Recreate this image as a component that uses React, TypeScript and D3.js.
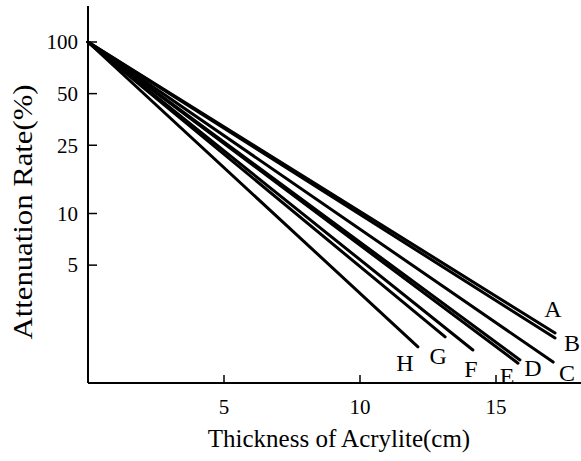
import React from 'react';
import * as d3 from 'd3';

// series names and where each line ends (thickness in cm, attenuation in %)
const seriesNames = ['A', 'B', 'C', 'D', 'E', 'F', 'G', 'H'];
const endThickness = [17.17, 17.17, 17.1, 15.88, 15.81, 14.15, 13.13, 12.13];
const endAttenuation = [2.01, 1.88, 1.36, 1.4, 1.34, 1.6, 1.91, 1.67];
const startThickness = 0;
const startAttenuation = 100;

const xTicks = [5, 10, 15];
const yTicks = [100, 50, 25, 10, 5];

// label placement relative to line end (px)
const labelOffsets: [number, number][] = [
  [-2, -16], [17, 13], [14, 19], [13, 16], [-11, 21], [-2, 27], [-7, 27], [-13, 24],
];

const W = 581;
const H = 461;
const font = '"Liberation Serif", "DejaVu Serif", serif';

export default function App() {
  const x = d3.scaleLinear().domain([0, 5]).range([88, 224]);
  const y = d3.scaleLog().domain([1, 100]).range([385, 42]);
  const axisY = 383;
  const axisX = x(0);

  const line = d3.line<[number, number]>()
    .x(d => x(d[0]))
    .y(d => y(d[1]));

  return (
    <svg width={W} height={H} style={{ position: 'absolute', left: 0, top: 0, background: '#fff' }}>
      {/* lines */}
      {seriesNames.map((name, i) => (
        <path
          key={name}
          d={line([[startThickness, startAttenuation], [endThickness[i], endAttenuation[i]]]) || ''}
          fill="none"
          stroke="#000"
          strokeWidth={3}
          strokeLinecap="round"
        />
      ))}

      {/* axes */}
      <line x1={axisX} x2={axisX} y1={6} y2={axisY} stroke="#000" strokeWidth={2} />
      <line x1={axisX} x2={W} y1={axisY} y2={axisY} stroke="#000" strokeWidth={2} />

      {yTicks.map(t => (
        <g key={t}>
          <line x1={axisX} x2={axisX + 9} y1={y(t)} y2={y(t)} stroke="#000" strokeWidth={1.5} />
          <text x={78} y={y(t)} dy="0.35em" textAnchor="end" fontFamily={font} fontSize={21}>{t}</text>
        </g>
      ))}
      {xTicks.map(t => (
        <g key={t}>
          <line x1={x(t)} x2={x(t)} y1={axisY} y2={axisY - 8} stroke="#000" strokeWidth={1.5} />
          <text x={x(t)} y={414} textAnchor="middle" fontFamily={font} fontSize={21}>{t}</text>
        </g>
      ))}

      {/* series labels */}
      {seriesNames.map((name, i) => (
        <text
          key={name}
          x={x(endThickness[i]) + labelOffsets[i][0]}
          y={y(endAttenuation[i]) + labelOffsets[i][1]}
          textAnchor="middle"
          fontFamily={font}
          fontSize={24}
        >{name}</text>
      ))}

      {/* axis titles */}
      <text x={339} y={447} textAnchor="middle" fontFamily={font} fontSize={25}>Thickness of Acrylite(cm)</text>
      <text
        transform="translate(32,212) rotate(-90)"
        textAnchor="middle"
        fontFamily={font}
        fontSize={28}
        textLength={255}
        lengthAdjust="spacingAndGlyphs"
      >Attenuation Rate(%)</text>
    </svg>
  );
}
